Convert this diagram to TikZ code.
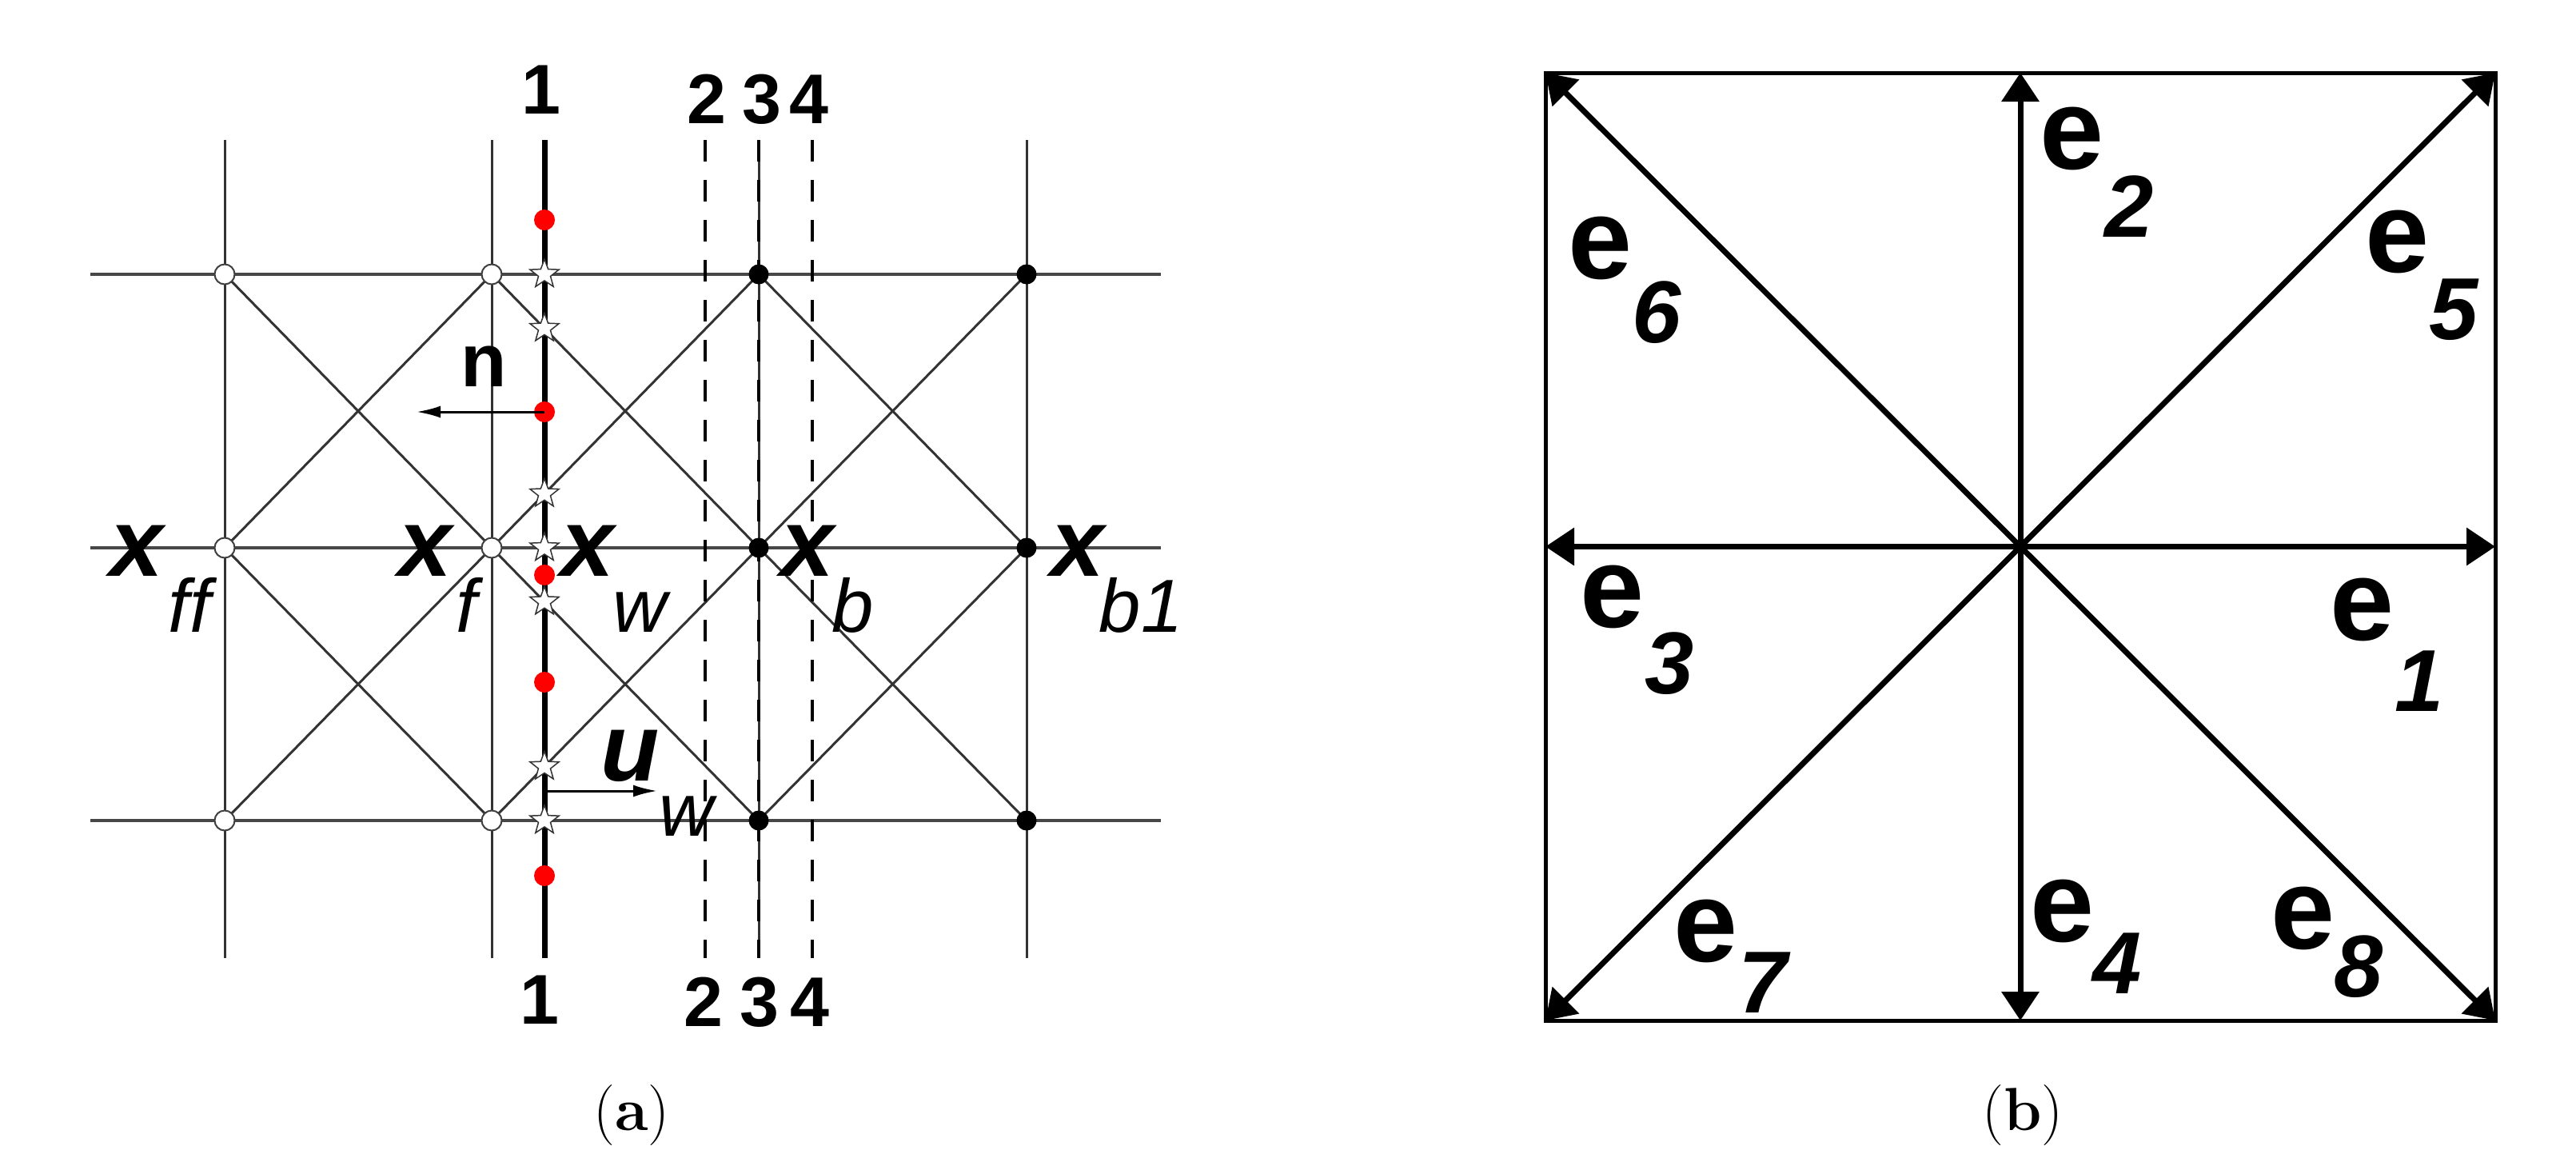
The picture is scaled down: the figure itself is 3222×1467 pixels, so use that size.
\documentclass[tikz,border=0pt]{standalone}
\usepackage{fontspec}
\newfontfamily\arial{Liberation Sans}
\usetikzlibrary{arrows.meta,shapes.geometric}
\begin{document}
\begin{tikzpicture}[x=1pt,y=-1pt,
  thinl/.style={line width=3pt, black!80},
  hline/.style={line width=3.5pt, black!72},
  dashl/.style={line width=4.5pt, black, dash pattern=on 27pt off 23pt},
  wall/.style={line width=7pt, black},
  wdot/.style={circle, draw=black!75, line width=2pt, fill=white, minimum size=25pt, inner sep=0pt},
  bdot/.style={circle, fill=black, minimum size=25pt, inner sep=0pt},
  rdot/.style={circle, fill=red, minimum size=26pt, inner sep=0pt},
  starn/.style={star, star points=5, star point ratio=2.4, draw=black!80, line width=1.5pt, fill=white, minimum size=38pt, inner sep=0pt},
  smallarrow/.style={line width=3pt, -{Latex[length=30pt,width=15pt]}},
  bigarrow/.style={line width=7pt, -{Triangle[length=36pt,width=46pt]}},
  xlab/.style={font=\arial\bfseries\itshape\fontsize{120}{120}\selectfont, anchor=base, inner sep=0pt},
  sublab/.style={font=\arial\itshape\fontsize{94}{94}\selectfont, anchor=base, inner sep=0pt},
  nlab/.style={font=\arial\bfseries\fontsize{94}{94}\selectfont, anchor=base, inner sep=0pt},
  numlab/.style={font=\arial\bfseries\fontsize{88}{88}\selectfont, anchor=base, inner sep=0pt},
  elab/.style={font=\arial\bfseries\fontsize{144}{144}\selectfont, anchor=base, inner sep=0pt},
  esub/.style={font=\arial\bfseries\itshape\fontsize{110}{110}\selectfont, anchor=base, inner sep=0pt},
  caplab/.style={font=\fontsize{76}{76}\selectfont, anchor=base, inner sep=0pt}
]
\useasboundingbox[fill=white] (0,0) rectangle (3222,1467);

% ---------------- panel (a) ----------------
% grid points: columns ff, f, b, b1 ; rows t, m, d
\foreach \c/\xx in {0/281,1/615,2/949,3/1284}{
  \foreach \r/\yy in {0/343,1/685,2/1026}{
    \coordinate (g\c\r) at (\xx,\yy);
  }
  \coordinate (vt\c) at (\xx,175);
  \coordinate (vb\c) at (\xx,1198);
}
\foreach \r/\yy in {0/343,1/685,2/1026}{
  \coordinate (hl\r) at (113,\yy);
  \coordinate (hr\r) at (1452,\yy);
}
% vertical and horizontal grid lines
\foreach \c in {0,1,2,3}{ \draw[thinl] (vt\c) -- (vb\c); }
\foreach \r in {0,1,2}{ \draw[hline] (hl\r) -- (hr\r); }
% diagonals
\foreach \c/\cn in {0/1,1/2,2/3}{
  \foreach \r/\rn in {0/1,1/2}{
    \draw[thinl] (g\c\r) -- (g\cn\rn);
    \draw[thinl] (g\c\rn) -- (g\cn\r);
  }
}
% dashed lines 2,3,4
\coordinate (d2t) at (882,175); \coordinate (d2b) at (882,1198);
\coordinate (d3t) at (949,175); \coordinate (d3b) at (949,1198);
\coordinate (d4t) at (1016,175); \coordinate (d4b) at (1016,1198);
\draw[dashl] (d2t) -- (d2b);
\draw[dashl] (d3t) -- (d3b);
\draw[dashl] (d4t) -- (d4b);
% wall line 1
\coordinate (l1t) at (681,175); \coordinate (l1b) at (681,1198);
\draw[wall] (l1t) -- (l1b);

% grid nodes
\foreach \r in {0,1,2}{
  \node[wdot] (w0\r) at (g0\r) {};
  \node[wdot] (w1\r) at (g1\r) {};
  \node[bdot] (b2\r) at (g2\r) {};
  \node[bdot] (b3\r) at (g3\r) {};
}
% red dots
\node[rdot] (r1) at (681,275) {};
\node[rdot] (r2) at (681,515) {};
\node[rdot] (r3) at (681,719) {};
\node[rdot] (r4) at (681,853) {};
\node[rdot] (r5) at (681,1095) {};
% stars at intersections of line 1
\node[starn] (s1) at (intersection of l1t--l1b and hl0--hr0) {};
\node[starn] (s2) at (intersection of l1t--l1b and g10--g21) {};
\node[starn] (s3) at (intersection of l1t--l1b and g11--g20) {};
\node[starn] (s4) at (intersection of l1t--l1b and hl1--hr1) {};
\node[starn] (s5) at (intersection of l1t--l1b and g11--g22) {};
\node[starn] (s6) at (intersection of l1t--l1b and g12--g21) {};
\node[starn] (s7) at (intersection of l1t--l1b and hl2--hr2) {};

% arrows n and u_w
\coordinate (ntip) at (521,515);
\draw[smallarrow] (r2.center) -- (ntip);
\coordinate (ustart) at (684,989);
\coordinate (utip) at (822,989);
\draw[smallarrow] (ustart) -- (utip);
\node[nlab] (nl) at (605,483) {n};
\node[xlab] (ul) at (788,976) {u};
\node[sublab] (uw) at (858,1045) {w};

% x labels
\node[xlab] (xff) at (171,720) {x};
\node[sublab] (xffs) at (237,790) {ff};
\node[xlab] (xf) at (532,720) {x};
\node[sublab] (xfs) at (584,790) {f};
\node[xlab] (xw) at (735,720) {x};
\node[sublab] (xws) at (800,790) {w};
\node[xlab] (xb) at (1010,720) {x};
\node[sublab] (xbs) at (1067,790) {b};
\node[xlab] (xb1) at (1348,720) {x};
\node[sublab] (xb1s) at (1427,790) {b1};

% line numbers
\node[numlab] (t1) at (677,142) {1};
\node[numlab] (t2) at (884,154) {2};
\node[numlab] (t3) at (953,154) {3};
\node[numlab] (t4) at (1012,154) {4};
\node[numlab] (u1) at (675,1280) {1};
\node[numlab] (u2) at (880,1283) {2};
\node[numlab] (u3) at (950,1283) {3};
\node[numlab] (u4) at (1013,1283) {4};

\node[caplab] (capa) at (790,1413) {(\textbf{a})};

% ---------------- panel (b) ----------------
\coordinate (tl) at (1933,91);
\coordinate (tr) at (3121,91);
\coordinate (bl) at (1933,1276);
\coordinate (br) at (3121,1276);
\coordinate (cc) at (2527,683.5);
\coordinate (mt) at (2527,91);
\coordinate (mb) at (2527,1276);
\coordinate (ml) at (1933,683.5);
\coordinate (mr) at (3121,683.5);
\draw[line width=5pt] (tl) -- (tr) -- (br) -- (bl) -- cycle;
\draw[bigarrow] (cc) -- (mr);
\draw[bigarrow] (cc) -- (mt);
\draw[bigarrow] (cc) -- (ml);
\draw[bigarrow] (cc) -- (mb);
\draw[bigarrow] (cc) -- (tr);
\draw[bigarrow] (cc) -- (tl);
\draw[bigarrow] (cc) -- (bl);
\draw[bigarrow] (cc) -- (br);

\node[elab] (e2) at (2592,211) {e};  \node[esub] (e2s) at (2663,296) {2};
\node[elab] (e6) at (2002,348) {e};  \node[esub] (e6s) at (2072,428) {6};
\node[elab] (e5) at (2999,340) {e};  \node[esub] (e5s) at (3069,424) {5};
\node[elab] (e3) at (2017,784) {e};  \node[esub] (e3s) at (2088,867) {3};
\node[elab] (e1) at (2955,800) {e};  \node[esub] (e1s) at (3026,889) {1};
\node[elab] (e7) at (2134,1202) {e}; \node[esub] (e7s) at (2205,1266) {7};
\node[elab] (e4) at (2580,1177) {e}; \node[esub] (e4s) at (2648,1242) {4};
\node[elab] (e8) at (2881,1186) {e}; \node[esub] (e8s) at (2950,1246) {8};

\node[caplab] (capb) at (2530,1413) {(\textbf{b})};
\end{tikzpicture}
\end{document}
